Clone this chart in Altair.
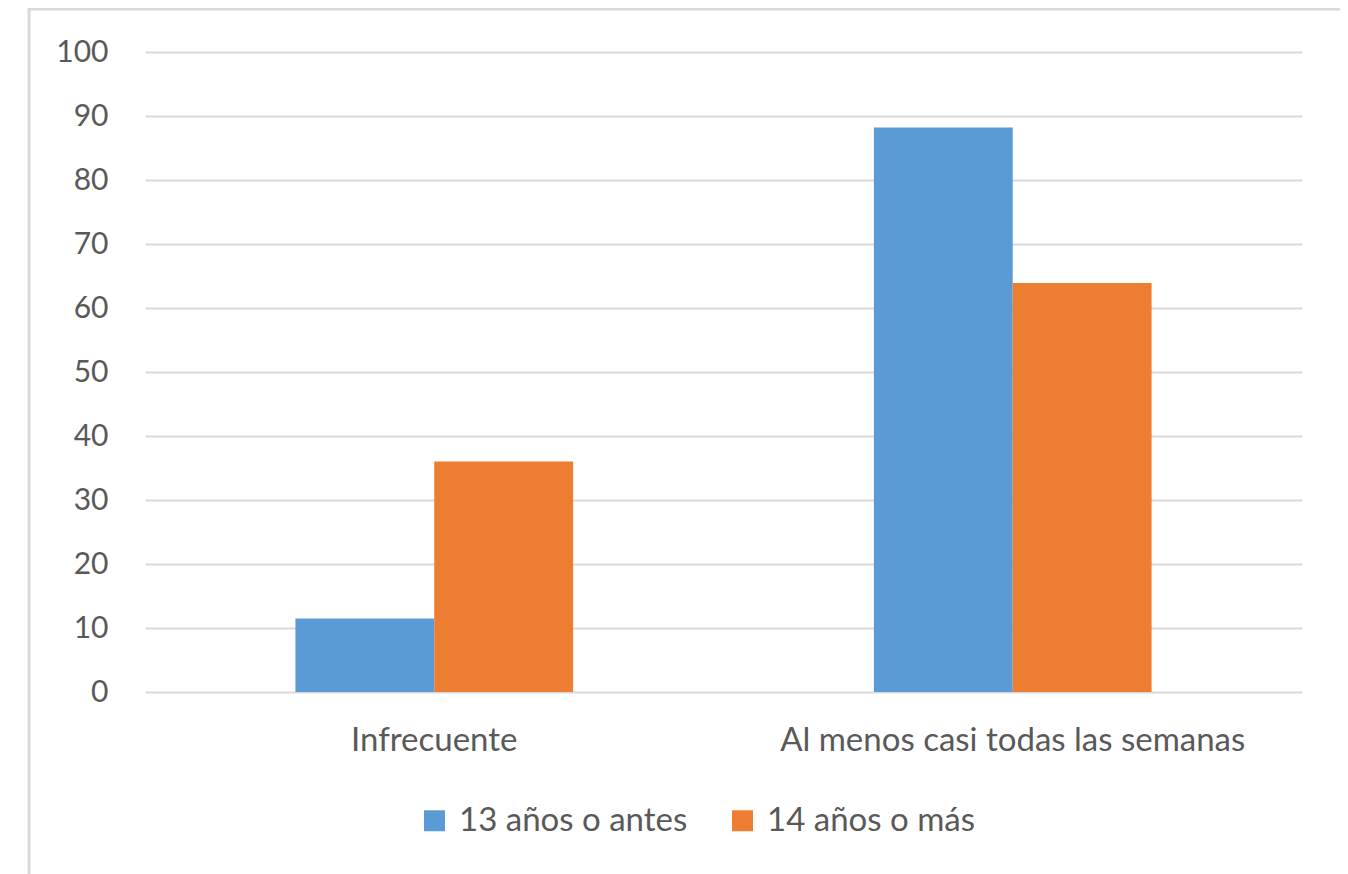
import altair as alt
import pandas as pd

categories = ["Infrecuente", "Al menos casi todas las semanas"]
series = ["13 años o antes", "14 años o más"]
values_13 = [11.5, 88.2]
values_14 = [36.0, 63.9]
y_ticks = [0, 10, 20, 30, 40, 50, 60, 70, 80, 90, 100]
colors = ["#5B9BD5", "#ED7D31"]

rows = []
for i, c in enumerate(categories):
    rows.append({"cat": c, "serie": series[0], "valor": values_13[i]})
    rows.append({"cat": c, "serie": series[1], "valor": values_14[i]})
df = pd.DataFrame(rows)

FONT = "Lato"
TXT = "#595959"

bars = alt.Chart(df).mark_bar().encode(
    x=alt.X(
        "cat:N",
        sort=categories,
        scale=alt.Scale(paddingInner=0.52, paddingOuter=0.26),
        axis=alt.Axis(
            title=None, labelAngle=0, domain=False, ticks=False, labelLimit=0,
            labelFontSize=33, labelColor=TXT, labelFont=FONT, labelPadding=32,
        ),
    ),
    xOffset=alt.XOffset("serie:N", sort=series, scale=alt.Scale(paddingInner=0, paddingOuter=0)),
    y=alt.Y(
        "valor:Q",
        scale=alt.Scale(domain=[0, 100], nice=False),
        axis=alt.Axis(
            values=y_ticks, title=None, domain=False, ticks=False, grid=True,
            gridColor="#d9d9d9", gridWidth=2, labelPadding=37,
            labelFontSize=30, labelColor=TXT, labelFont=FONT,
        ),
    ),
    color=alt.Color(
        "serie:N",
        sort=series,
        scale=alt.Scale(domain=series, range=colors),
        legend=alt.Legend(
            title=None, orient="none", legendX=273, legendY=752,
            direction="horizontal", symbolType="square", symbolSize=440,
            symbolStrokeWidth=0, labelFontSize=33, labelColor=TXT, labelFont=FONT,
            columnPadding=38, labelOffset=8, padding=0, labelLimit=0,
        ),
    ),
)

frame = alt.Chart(pd.DataFrame({"a": [0]})).mark_rect(
    filled=False, stroke="#d9d9d9", strokeWidth=3
).encode(
    x=alt.value(-116), x2=alt.value(1199), y=alt.value(-43), y2=alt.value(900)
)

chart = alt.layer(frame, bars).properties(
    width=1157,
    height=640,
    autosize=alt.AutoSizeParams(type="none"),
    padding={"left": 137, "top": 44, "right": 38, "bottom": 182},
).configure_view(strokeWidth=0)

chart.save("out.html", embed_options={"renderer": "svg", "actions": False})
